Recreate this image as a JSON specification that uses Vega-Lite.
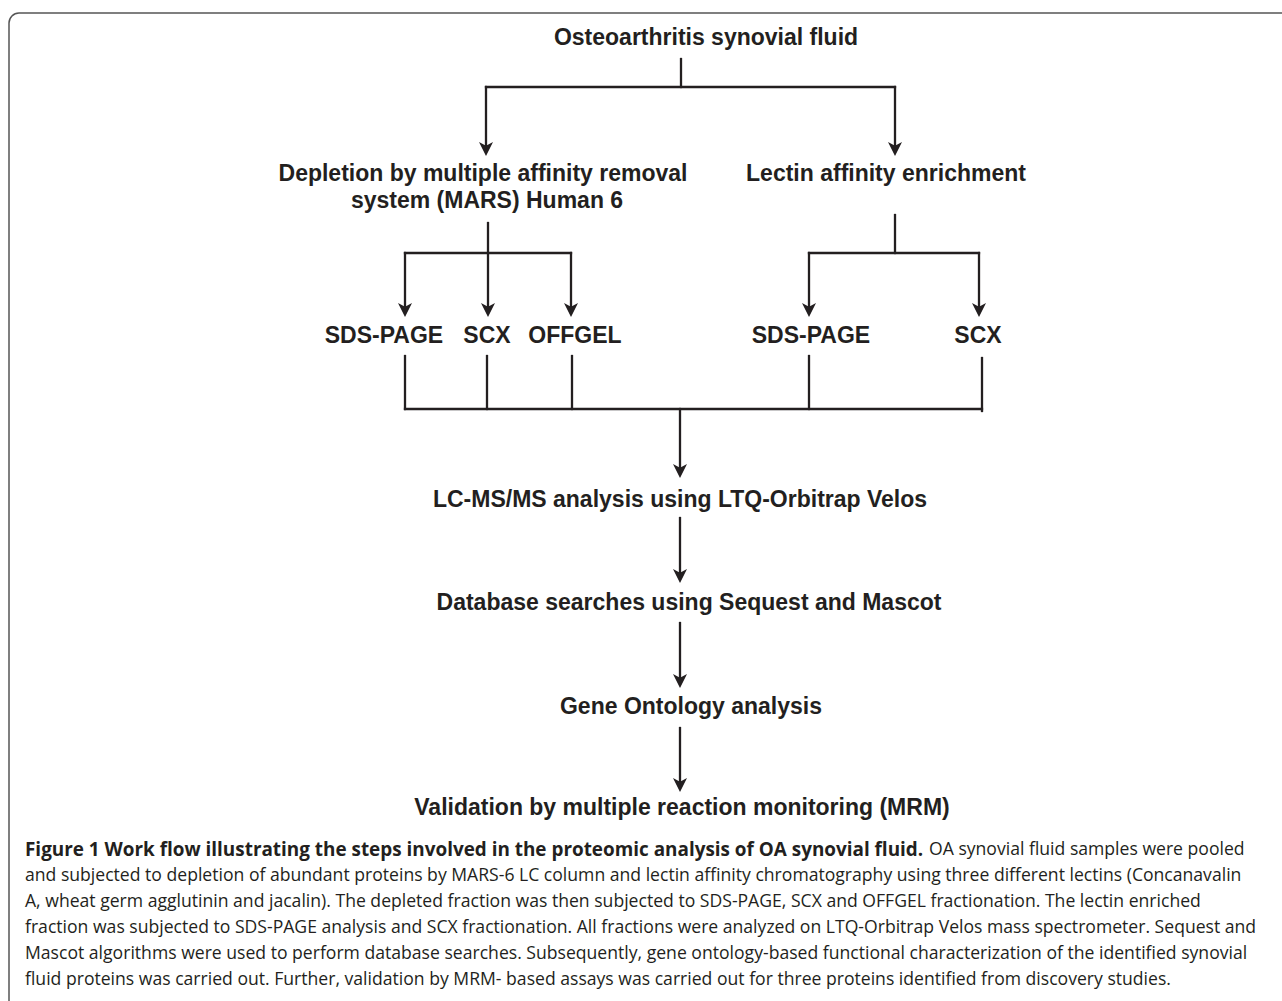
{
  "$schema": "https://vega.github.io/schema/vega-lite/v6.json",
  "width": 1282,
  "height": 1001,
  "padding": 0,
  "autosize": {"type": "fit", "contains": "padding"},
  "background": "white",
  "view": {"stroke": null},
  "datasets": {
    "frame": [
      {"x": 9, "y": 13, "x2": 1320, "y2": 1040}
    ],
    "links": [
      {"x": 681, "y": 59, "x2": 681, "y2": 87},
      {"x": 486, "y": 87, "x2": 895, "y2": 87},
      {"x": 486, "y": 87, "x2": 486, "y2": 150},
      {"x": 895, "y": 87, "x2": 895, "y2": 150},
      {"x": 488, "y": 223, "x2": 488, "y2": 310},
      {"x": 405, "y": 253, "x2": 571, "y2": 253},
      {"x": 405, "y": 253, "x2": 405, "y2": 310},
      {"x": 571, "y": 253, "x2": 571, "y2": 310},
      {"x": 895, "y": 215, "x2": 895, "y2": 253},
      {"x": 809, "y": 253, "x2": 979, "y2": 253},
      {"x": 809, "y": 253, "x2": 809, "y2": 310},
      {"x": 979, "y": 253, "x2": 979, "y2": 310},
      {"x": 405, "y": 356, "x2": 405, "y2": 409},
      {"x": 487, "y": 356, "x2": 487, "y2": 409},
      {"x": 572, "y": 356, "x2": 572, "y2": 409},
      {"x": 809, "y": 356, "x2": 809, "y2": 409},
      {"x": 982, "y": 358, "x2": 982, "y2": 411},
      {"x": 405, "y": 409, "x2": 982, "y2": 409},
      {"x": 680, "y": 409, "x2": 680, "y2": 472},
      {"x": 680, "y": 518, "x2": 680, "y2": 577},
      {"x": 680, "y": 623, "x2": 680, "y2": 682},
      {"x": 680, "y": 728, "x2": 680, "y2": 786}
    ],
    "heads": [
      {"x": 486, "y": 156},
      {"x": 895, "y": 156},
      {"x": 405, "y": 317},
      {"x": 488, "y": 317},
      {"x": 571, "y": 317},
      {"x": 809, "y": 317},
      {"x": 979, "y": 317},
      {"x": 680, "y": 478},
      {"x": 680, "y": 583},
      {"x": 680, "y": 688},
      {"x": 680, "y": 792}
    ],
    "steps": [
      {"label": "Osteoarthritis synovial fluid", "x": 706, "y": 38},
      {"label": "Depletion by multiple affinity removal", "x": 483, "y": 174},
      {"label": "system (MARS) Human 6", "x": 487, "y": 201},
      {"label": "Lectin affinity enrichment", "x": 886, "y": 174},
      {"label": "SDS-PAGE", "x": 384, "y": 336},
      {"label": "SCX", "x": 487, "y": 336},
      {"label": "OFFGEL", "x": 575, "y": 336},
      {"label": "SDS-PAGE", "x": 811, "y": 336},
      {"label": "SCX", "x": 978, "y": 336},
      {"label": "LC-MS/MS analysis using LTQ-Orbitrap Velos", "x": 680, "y": 500},
      {"label": "Database searches using Sequest and Mascot", "x": 689, "y": 603},
      {"label": "Gene Ontology analysis", "x": 691, "y": 707},
      {"label": "Validation by multiple reaction monitoring (MRM)", "x": 682, "y": 808}
    ],
    "caption": [
      {"part": "bold", "text": "Figure 1 Work flow illustrating the steps involved in the proteomic analysis of OA synovial fluid.", "x": 25, "y": 850},
      {"part": "plain", "text": "OA synovial fluid samples were pooled", "x": 929, "y": 850},
      {"part": "plain", "text": "and subjected to depletion of abundant proteins by MARS-6 LC column and lectin affinity chromatography using three different lectins (Concanavalin", "x": 25, "y": 876},
      {"part": "plain", "text": "A, wheat germ agglutinin and jacalin). The depleted fraction was then subjected to SDS-PAGE, SCX and OFFGEL fractionation. The lectin enriched", "x": 25, "y": 902},
      {"part": "plain", "text": "fraction was subjected to SDS-PAGE analysis and SCX fractionation. All fractions were analyzed on LTQ-Orbitrap Velos mass spectrometer. Sequest and", "x": 25, "y": 928},
      {"part": "plain", "text": "Mascot algorithms were used to perform database searches. Subsequently, gene ontology-based functional characterization of the identified synovial", "x": 25, "y": 954},
      {"part": "plain", "text": "fluid proteins was carried out. Further, validation by MRM- based assays was carried out for three proteins identified from discovery studies.", "x": 25, "y": 980}
    ]
  },
  "encoding": {
    "x": {"field": "x", "type": "quantitative", "axis": null, "scale": {"domain": [0, 1282], "nice": false, "zero": false}},
    "y": {"field": "y", "type": "quantitative", "axis": null, "scale": {"domain": [0, 1001], "nice": false, "zero": false, "reverse": true}}
  },
  "layer": [
    {
      "data": {"name": "frame"},
      "mark": {"type": "rect", "filled": false, "stroke": "#555555", "strokeWidth": 1.5, "cornerRadius": 10, "clip": true},
      "encoding": {"x2": {"field": "x2"}, "y2": {"field": "y2"}}
    },
    {
      "data": {"name": "links"},
      "mark": {"type": "rule", "color": "#231f20", "strokeWidth": 2.3, "strokeCap": "square"},
      "encoding": {"x2": {"field": "x2"}, "y2": {"field": "y2"}}
    },
    {
      "data": {"name": "heads"},
      "mark": {"type": "point", "shape": "M0,0 L-1,-2 L0,-1.45 L1,-2 Z", "size": 196, "filled": true, "color": "#231f20", "opacity": 1, "strokeWidth": 0}
    },
    {
      "data": {"name": "steps"},
      "mark": {"type": "text", "font": "Liberation Sans", "fontWeight": "bold", "fontSize": 23, "color": "#231f20", "align": "center", "baseline": "middle"},
      "encoding": {"text": {"field": "label"}}
    },
    {
      "data": {"name": "caption"},
      "transform": [{"filter": "datum.part === 'bold'"}],
      "mark": {"type": "text", "font": "Open Sans", "fontWeight": "bold", "fontSize": 18.9, "color": "#231f20", "align": "left", "baseline": "middle"},
      "encoding": {"text": {"field": "text"}}
    },
    {
      "data": {"name": "caption"},
      "transform": [{"filter": "datum.part === 'plain'"}],
      "mark": {"type": "text", "font": "Open Sans", "fontSize": 17.6, "color": "#231f20", "align": "left", "baseline": "middle"},
      "encoding": {"text": {"field": "text"}}
    }
  ]
}
